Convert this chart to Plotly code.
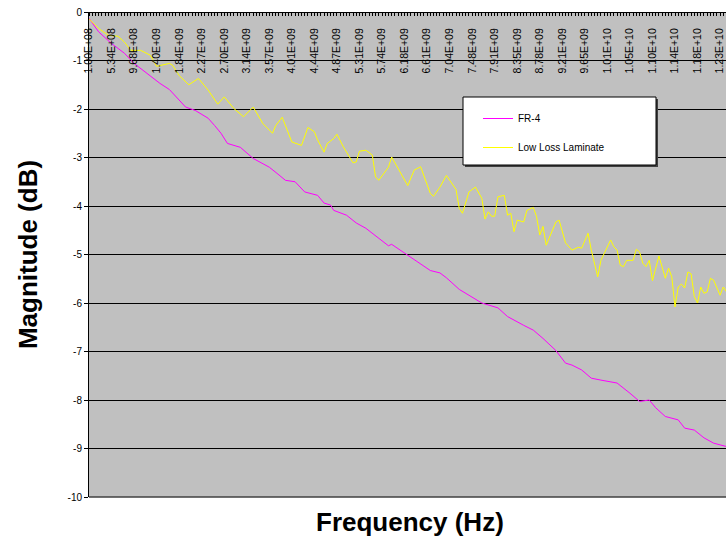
import plotly.graph_objects as go

# ---- data ----
fr4_freq_ghz = [0.1, 0.286, 0.534, 0.782, 0.968, 1.216, 1.464, 1.65, 1.836, 1.96,
                2.146, 2.394, 2.518, 2.642, 2.766, 3.014, 3.262, 3.386, 3.51, 3.572,
                3.758, 3.882, 4.068, 4.254, 4.502, 4.626, 4.75, 4.812, 5.06, 5.246,
                5.432, 5.68, 5.866, 5.928, 6.238, 6.424, 6.672, 6.858, 6.982, 7.23,
                7.664, 7.974, 8.16, 8.47, 8.656, 8.842, 9.09, 9.276, 9.4, 9.586,
                9.772, 9.958, 10.268, 10.516, 10.702, 10.888, 11.012, 11.198, 11.446, 11.57,
                11.756, 11.942, 12.128, 12.376, 12.5]
fr4_db = [-0.13, -0.41, -0.65, -0.85, -1.06, -1.27, -1.47, -1.60, -1.82, -1.96,
          -2.03, -2.19, -2.34, -2.50, -2.71, -2.79, -3.02, -3.09, -3.16, -3.20,
          -3.36, -3.47, -3.50, -3.71, -3.78, -3.94, -3.98, -4.09, -4.19, -4.35,
          -4.46, -4.66, -4.82, -4.79, -5.01, -5.15, -5.33, -5.38, -5.48, -5.72,
          -6.00, -6.10, -6.28, -6.46, -6.56, -6.73, -6.98, -7.24, -7.28, -7.38,
          -7.55, -7.59, -7.65, -7.86, -8.03, -8.00, -8.16, -8.34, -8.41, -8.58,
          -8.62, -8.78, -8.89, -8.96, -9.04]

lll_freq_ghz = [0.1, 0.286, 0.472, 0.658, 0.782, 0.906, 1.092, 1.278, 1.402, 1.65,
                1.712, 1.836, 2.022, 2.208, 2.394, 2.58, 2.704, 2.89, 3.076, 3.262,
                3.448, 3.634, 3.696, 3.82, 4.006, 4.192, 4.316, 4.44, 4.502, 4.626,
                4.688, 4.812, 4.874, 4.998, 5.184, 5.246, 5.308, 5.432, 5.556, 5.618,
                5.68, 5.804, 5.866, 5.928, 6.114, 6.238, 6.362, 6.486, 6.672, 6.734,
                6.858, 6.982, 7.168, 7.23, 7.292, 7.416, 7.54, 7.664, 7.726, 7.788,
                7.85, 7.912, 7.974, 8.098, 8.16, 8.222, 8.284, 8.346, 8.47, 8.532,
                8.656, 8.718, 8.78, 8.842, 8.904, 9.09, 9.152, 9.214, 9.276, 9.4,
                9.524, 9.586, 9.71, 9.772, 9.896, 9.958, 10.144, 10.206, 10.268, 10.33,
                10.392, 10.454, 10.578, 10.64, 10.702, 10.764, 10.826, 10.888, 10.95, 11.074,
                11.198, 11.26, 11.322, 11.384, 11.446, 11.508, 11.57, 11.632, 11.694, 11.756,
                11.818, 11.88, 11.942, 12.004, 12.066, 12.128, 12.252, 12.314, 12.376, 12.5]
lll_db = [-0.14, -0.34, -0.48, -0.50, -0.62, -0.79, -0.79, -0.89, -1.12, -1.06,
          -1.10, -1.31, -1.50, -1.37, -1.61, -1.90, -1.75, -1.99, -2.16, -1.96,
          -2.30, -2.50, -2.34, -2.17, -2.68, -2.75, -2.38, -2.47, -2.64, -2.89,
          -2.71, -2.61, -2.52, -2.78, -3.11, -3.09, -2.87, -2.85, -2.95, -3.40,
          -3.47, -3.30, -3.20, -2.99, -3.35, -3.58, -3.26, -3.19, -3.74, -3.80,
          -3.61, -3.37, -3.66, -4.05, -4.15, -3.71, -3.61, -3.84, -4.27, -4.12,
          -4.21, -4.21, -3.81, -3.78, -4.19, -4.15, -4.53, -4.29, -4.33, -4.09,
          -4.03, -4.22, -4.60, -4.42, -4.81, -4.33, -4.29, -4.50, -4.76, -4.91,
          -4.85, -4.87, -4.56, -4.91, -5.46, -5.12, -4.70, -4.84, -4.91, -5.22,
          -5.25, -5.12, -5.12, -4.89, -4.95, -5.18, -5.25, -5.12, -5.54, -5.03,
          -5.49, -5.28, -5.46, -6.08, -5.67, -5.61, -5.69, -5.36, -5.40, -5.87,
          -6.00, -5.67, -5.80, -5.77, -5.49, -5.53, -5.84, -5.67, -5.77, -5.80]

tick_freq_ghz = [0.1, 0.534, 0.968, 1.402, 1.836, 2.27, 2.704, 3.138, 3.572, 4.006,
                 4.44, 4.874, 5.308, 5.742, 6.176, 6.61, 7.044, 7.478, 7.912, 8.346,
                 8.78, 9.214, 9.648, 10.082, 10.516, 10.95, 11.384, 11.818, 12.252]
tick_labels = ["1.00E+08", "5.34E+08", "9.68E+08", "1.40E+09", "1.84E+09", "2.27E+09",
               "2.70E+09", "3.14E+09", "3.57E+09", "4.01E+09", "4.44E+09", "4.87E+09",
               "5.31E+09", "5.74E+09", "6.18E+09", "6.61E+09", "7.04E+09", "7.48E+09",
               "7.91E+09", "8.35E+09", "8.78E+09", "9.21E+09", "9.65E+09", "1.01E+10",
               "1.05E+10", "1.10E+10", "1.14E+10", "1.18E+10", "1.23E+10"]
y_ticks = [0, -1, -2, -3, -4, -5, -6, -7, -8, -9, -10]

# ---- layout geometry (pixels) ----
W, H = 726, 542
L, R, T, B = 89, 0, 12, 45
PW, PH = W - L - R, H - T - B


def px_x(p):
    return (p - L) / PW


def px_y(p):
    return (H - B - p) / PH


FONT = "Arial, Liberation Sans, Helvetica, sans-serif"

fig = go.Figure()
fig.add_trace(go.Scatter(x=[f * 1e9 for f in fr4_freq_ghz], y=fr4_db, mode="lines",
                         name="FR-4", legendgroup="a",
                         line=dict(color="#FF00FF", width=1)))
fig.add_trace(go.Scatter(x=[f * 1e9 for f in lll_freq_ghz], y=lll_db, mode="lines",
                         name="Low Loss Laminate", legendgroup="b",
                         line=dict(color="#FFFF00", width=1)))

# legend box with shadow
fig.add_shape(type="rect", xref="paper", yref="paper",
              x0=px_x(465), x1=px_x(658), y0=px_y(167), y1=px_y(99),
              fillcolor="#404040", line=dict(width=0), layer="above")
fig.add_shape(type="rect", xref="paper", yref="paper",
              x0=px_x(463), x1=px_x(656), y0=px_y(165), y1=px_y(97),
              fillcolor="white", line=dict(color="black", width=1), layer="above")

fig.add_annotation(text="<b>Frequency (Hz)</b>", xref="paper", yref="paper",
                   x=px_x(410), y=px_y(522), xanchor="center", yanchor="middle",
                   showarrow=False, font=dict(family=FONT, size=26, color="black"))

fig.update_layout(
    width=W, height=H,
    margin=dict(l=L, r=R, t=T, b=B, autoexpand=False),
    paper_bgcolor="white", plot_bgcolor="#C0C0C0",
    font=dict(family=FONT, color="black", size=10),
    showlegend=True,
    legend=dict(x=px_x(478), y=px_y(104), xanchor="left", yanchor="top",
                bgcolor="rgba(0,0,0,0)", borderwidth=0,
                font=dict(family=FONT, size=10, color="black"),
                tracegroupgap=10),
    xaxis=dict(
        type="linear", anchor="free", position=1.0, side="bottom",
        range=[0.1e9, 12.366e9],
        tickmode="array", tickvals=[f * 1e9 for f in tick_freq_ghz], ticktext=tick_labels,
        tickangle=-90, ticklabelstandoff=8,
        ticks="outside", ticklen=3, tickcolor="black", tickwidth=1,
        tickfont=dict(family=FONT, size=10.5, color="black"),
        minor=dict(tick0=0.1e9, dtick=0.062e9, ticks="outside", ticklen=3,
                   tickcolor="black", tickwidth=1, showgrid=False),
        showgrid=False, zeroline=False,
        showline=True, linecolor="black", linewidth=1,
    ),
    yaxis=dict(
        range=[-10, 0], tickmode="array", tickvals=y_ticks,
        ticktext=[str(v) for v in y_ticks],
        ticks="outside", ticklen=4, tickcolor="black",
        tickfont=dict(family=FONT, size=10, color="black"),
        showgrid=True, gridcolor="black", gridwidth=1, zeroline=False,
        showline=True, linecolor="black", linewidth=1,
        title=dict(text="<b>Magnitude (dB)</b>", standoff=22,
                   font=dict(family=FONT, size=26, color="black")),
    ),
)

# bottom border of the plot area
fig.add_shape(type="line", xref="paper", yref="paper", x0=0, x1=1, y0=0, y1=0,
              line=dict(color="#404040", width=1.5), layer="above")

fig.write_html("out.html", config={"displayModeBar": False},
               post_script="document.body.style.margin='0';document.body.style.overflow='hidden';")
